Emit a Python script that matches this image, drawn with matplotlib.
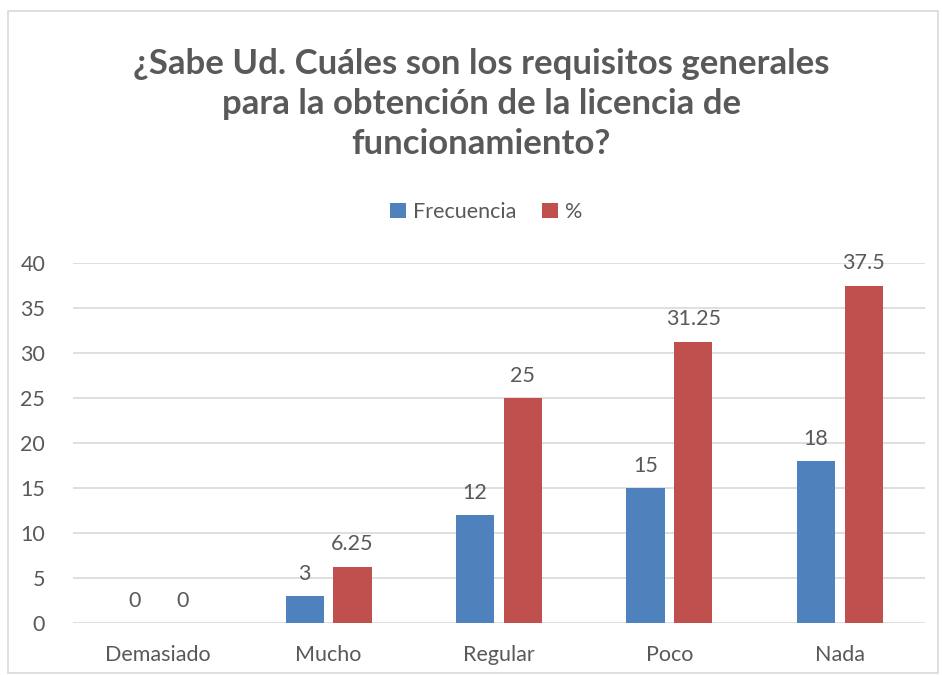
import numpy as np
import matplotlib
matplotlib.use('Agg')
import matplotlib.pyplot as plt
from matplotlib.patches import Rectangle

# datos
categorias = ['Demasiado', 'Mucho', 'Regular', 'Poco', 'Nada']
frecuencia = [0, 3, 12, 15, 18]
porcentaje = [0, 6.25, 25, 31.25, 37.5]
etiquetas_pct = ['0', '6.25', '25', '31.25', '37.5']

azul = '#4F81BD'
rojo = '#C0504D'
gris = '#595959'

plt.rcParams['font.family'] = ['Lato', 'DejaVu Sans']

fig = plt.figure(figsize=(9.42, 6.75), dpi=100)
ax = fig.add_axes([0.0775, 0.077, 0.9045, 0.533])

x = np.arange(len(categorias))
w = 0.225
b1 = ax.bar(x - 0.14, frecuencia, w, color=azul, label='Frecuencia')
b2 = ax.bar(x + 0.14, porcentaje, w, color=rojo, label='%')

for xi, v in zip(x, frecuencia):
    ax.annotate(str(v), (xi - 0.14, v), xytext=(0, 9), textcoords='offset points',
                ha='center', va='bottom', fontsize=15.5, color=gris)
for xi, v, t in zip(x, porcentaje, etiquetas_pct):
    ax.annotate(t, (xi + 0.14, v), xytext=(0, 9), textcoords='offset points',
                ha='center', va='bottom', fontsize=15.5, color=gris)

ax.set_xlim(-0.5, len(categorias) - 0.5)
ax.set_ylim(0, 40)
ax.set_yticks(range(0, 41, 5))
ax.set_xticks(x)
ax.set_xticklabels(categorias)
ax.tick_params(axis='both', length=0, labelsize=15.5, labelcolor=gris)
ax.tick_params(axis='x', pad=16)
ax.tick_params(axis='y', pad=20)
ax.grid(axis='y', color='#D9D9D9', linewidth=1.2)
ax.set_axisbelow(True)
for s in ax.spines.values():
    s.set_visible(False)

fig.text(0.511, 0.846, '¿Sabe Ud. Cuáles son los requisitos generales\npara la obtención de la licencia de\nfuncionamiento?',
         ha='center', va='center', fontsize=25, fontweight='bold', color=gris, linespacing=1.32)

fig.legend(handles=[b1, b2], loc='center', bbox_to_anchor=(0.516, 0.686), ncol=2, frameon=False,
           fontsize=15.5, labelcolor=gris, handlelength=0.75, handleheight=0.75,
           handletextpad=0.3, columnspacing=1.2)

fig.patches.append(Rectangle((0.009, 0.003), 0.987, 0.98, transform=fig.transFigure,
                             fill=False, edgecolor='#D9D9D9', linewidth=1.2))

fig.savefig('out.png', dpi=100)
